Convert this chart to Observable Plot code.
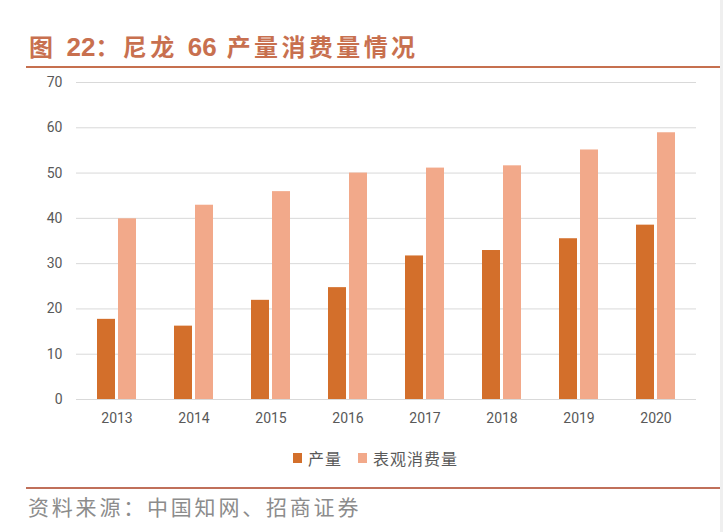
<!DOCTYPE html>
<html><head><meta charset="utf-8">
<script src="https://cdn.jsdelivr.net/npm/d3@7"></script>
<script src="https://cdn.jsdelivr.net/npm/@observablehq/plot@0.6"></script>
<style>
body{margin:0;background:#fff;}
#wrap{position:relative;width:723px;height:532px;overflow:hidden;font-family:"Noto Sans CJK SC",sans-serif;background:#fff;}
#title{position:absolute;left:29px;top:29px;font-family:"Liberation Sans","Noto Sans CJK SC",sans-serif;font-size:24px;font-weight:bold;color:#c8704f;letter-spacing:3.4px;white-space:nowrap;line-height:36px;}
#title .num{letter-spacing:0;font-size:26px;}
#tline{position:absolute;left:26px;top:66px;width:694px;height:2px;background:#c6704f;}
#chart{position:absolute;left:0;top:70px;}
#legend{position:absolute;top:447px;left:293px;display:flex;align-items:center;font-size:16px;color:#595959;letter-spacing:1px;line-height:22px;white-space:nowrap;}
#legend .sw{display:inline-block;width:9px;height:10px;margin-right:6px;}
#legend .item{display:flex;align-items:center;margin-right:16px;}
#bline{position:absolute;left:26px;top:487px;width:697px;height:2px;background:#c0705a;}
#source{position:absolute;left:28px;top:491px;font-size:21px;color:#8c8c8c;letter-spacing:2.8px;white-space:nowrap;line-height:30px;}
#edge{position:absolute;left:720px;top:0;width:3px;height:532px;background:#efefef;}
</style>
</head><body>
<div id="wrap">
  <div id="title"></div>
  <div id="tline"></div>
  <div id="chart"></div>
  <div id="legend"></div>
  <div id="bline"></div>
  <div id="source"></div>
  <div id="edge"></div>
</div>
<script>
const titleText = "图 22：尼龙 66 产量消费量情况";
const sourceText = "资料来源：中国知网、招商证券";
const years = ["2013","2014","2015","2016","2017","2018","2019","2020"];
const production = [17.7, 16.2, 21.9, 24.7, 31.7, 32.9, 35.5, 38.5];
const consumption = [39.9, 42.9, 45.9, 50.0, 51.1, 51.6, 55.1, 58.9];
const seriesNames = ["产量", "表观消费量"];
const seriesColors = ["#d36f2b", "#f2a98a"];
const yTicks = [0, 10, 20, 30, 40, 50, 60, 70];

const prodRows = years.map((y, i) => ({year: y, series: seriesNames[0], value: production[i]}));
const consRows = years.map((y, i) => ({year: y, series: seriesNames[1], value: consumption[i]}));

// title: digits set tighter than the CJK characters
const titleEl = document.getElementById("title");
titleText.split(/(\d+)/).forEach(part => {
  if (!part) return;
  const s = document.createElement("span");
  if (/^\d+$/.test(part)) s.className = "num";
  s.textContent = part;
  titleEl.appendChild(s);
});
document.getElementById("source").textContent = sourceText;

const legend = document.getElementById("legend");
seriesNames.forEach((name, i) => {
  const item = document.createElement("span");
  item.className = "item";
  const sw = document.createElement("span");
  sw.className = "sw";
  sw.style.background = seriesColors[i];
  item.appendChild(sw);
  item.appendChild(document.createTextNode(name));
  legend.appendChild(item);
});

const half = 21;
const chart = Plot.plot({
  width: 723,
  height: 370,
  marginTop: 12,
  marginBottom: 41,
  marginLeft: 76,
  marginRight: 27,
  style: {fontFamily: "Roboto, sans-serif", fontSize: "14px", color: "#595959", background: "transparent"},
  x: {domain: years, paddingInner: 0.5, paddingOuter: 0.25, label: null, tickSize: 0, tickPadding: 14},
  y: {domain: [0, 70], ticks: yTicks, label: null, tickSize: 0, tickPadding: 14},
  marks: [
    Plot.ruleY(yTicks, {stroke: "#d9d9d9", strokeWidth: 1}),
    Plot.barY(prodRows, {x: "year", y: "value", fill: seriesColors[0], insetRight: half}),
    Plot.barY(consRows, {x: "year", y: "value", fill: seriesColors[1], insetLeft: half})
  ]
});
document.getElementById("chart").appendChild(chart);
</script>
</body></html>
